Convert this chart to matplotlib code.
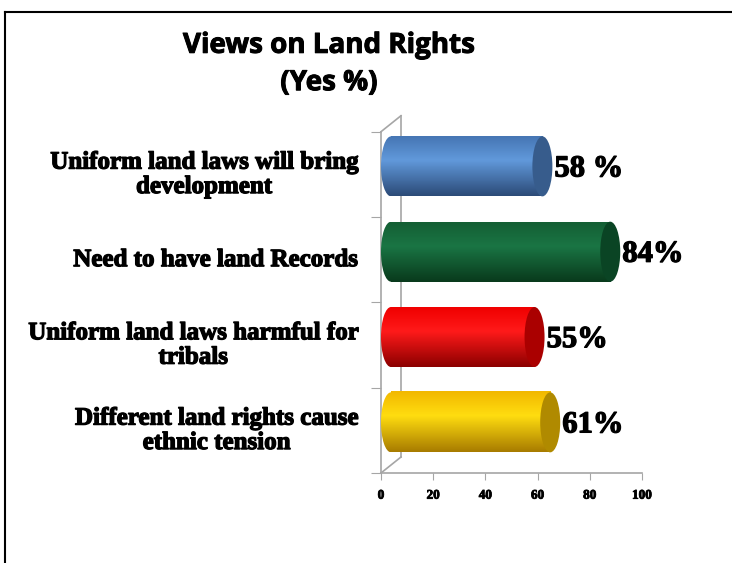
import numpy as np
import matplotlib.pyplot as plt
import matplotlib.patheffects as pe
from matplotlib.patches import Ellipse
from matplotlib.colors import LinearSegmentedColormap
from matplotlib.lines import Line2D

categories = ['Uniform land laws will bring\ndevelopment',
              'Need to have land Records',
              'Uniform land laws harmful for\ntribals',
              'Different land rights cause\nethnic tension']
values = [58, 84, 55, 61]
value_labels = ['58 %', '84%', '55%', '61%']
xticks = [0, 20, 40, 60, 80, 100]

# (top, highlight, bottom, end cap)
bar_colors = [('#4676B4', '#6199DB', '#2C4B78', '#375C8C'),
              ('#145F34', '#1A7544', '#093A1C', '#0A4424'),
              ('#F00000', '#FF1A1A', '#8C0000', '#AA0000'),
              ('#F2B800', '#FFDD10', '#A87C00', '#B08A00')]

W, H = 732, 563
fig = plt.figure(figsize=(W / 100, H / 100), dpi=100)

# plot area in pixels: x 0 at 381, 100 at 642; y from 131.7 to 473
ax = fig.add_axes([381 / W, 1 - 473 / H, 261 / W, 341.3 / H])
ax.set_xlim(0, 100)
ax.set_ylim(3.5, -0.5)

px_x = 100 / 261.0
px_y = 4 / 341.3
DX, DY = 20 * px_x, 16 * px_y          # full depth of the 3d box
dx, dy = DX / 2, DY / 2                # bars sit halfway in depth
bar_h = 60 * px_y

heavy = [pe.withStroke(linewidth=0.9, foreground='black')]

grey = '#A6A6A6'
frame = [((0, 3.5), (DX, 3.5 - DY)),
         ((0, -0.5), (DX, -0.5 - DY)),
         ((DX, -0.5 - DY), (DX, 3.5 - DY)),
         ((0, -0.5), (0, 3.5)),
         ((0, 3.5), (100, 3.5))]
for (x0, y0), (x1, y1) in frame:
    ax.plot([x0, x1], [y0, y1], color=grey, lw=1.2, clip_on=False, zorder=1)

for i, (v, (c_top, c_hi, c_bot, c_cap)) in enumerate(zip(values, bar_colors)):
    yc = i - dy
    x0 = dx
    x1 = v + dx
    cmap = LinearSegmentedColormap.from_list('c%d' % i,
                                             [(0, c_top), (0.4, c_hi), (1, c_bot)])
    grad = np.linspace(0, 1, 64).reshape(-1, 1)
    top, bot = yc - bar_h / 2, yc + bar_h / 2
    ax.imshow(grad, cmap=cmap, aspect='auto', extent=(x0, x1, bot, top),
              origin='upper', zorder=2, interpolation='bilinear')
    left_end = Ellipse((x0, yc), 2 * dx, bar_h, transform=ax.transData,
                       facecolor='none', edgecolor='none')
    ax.add_patch(left_end)
    im = ax.imshow(grad, cmap=cmap, aspect='auto', extent=(x0 - dx, x0 + dx, bot, top),
                   origin='upper', zorder=2, interpolation='bilinear')
    im.set_clip_path(left_end)
    ax.add_patch(Ellipse((x1, yc), 2 * dx, bar_h, facecolor=c_cap,
                         edgecolor='none', zorder=3))
    ax.text(v + DX + 0.8, yc + 0.03, value_labels[i], ha='left', va='center',
            fontsize=22, fontweight='bold', family='Liberation Serif',
            clip_on=False, path_effects=heavy)
    ax.text(-8.8, i, categories[i], ha='right', va='center',
            multialignment='center', fontsize=18, fontweight='bold',
            family='Liberation Serif', linespacing=1.08, path_effects=heavy)

ax.set_xlim(0, 100)
ax.set_ylim(3.5, -0.5)
for s in ax.spines.values():
    s.set_visible(False)
ax.set_xticks(xticks)
ax.set_xticklabels([str(t) for t in xticks], fontsize=9.5, fontweight='bold',
                   family='Liberation Serif')
for lbl in ax.get_xticklabels():
    lbl.set_path_effects([pe.withStroke(linewidth=0.6, foreground='black')])
ax.set_yticks([-0.5, 0.5, 1.5, 2.5, 3.5])
ax.set_yticklabels([])
ax.tick_params(axis='x', length=5, color=grey, pad=7, direction='out')
ax.tick_params(axis='y', length=7, color=grey, direction='out')
ax.patch.set_visible(False)

fig.text(329 / W, 1 - 64 / H, 'Views on Land Rights\n(Yes %)', ha='center',
         va='center', fontsize=20, fontweight='bold',
         family=['Open Sans', 'DejaVu Sans'], linespacing=1.38,
         path_effects=[pe.withStroke(linewidth=0.7, foreground='black')])

# slide border, top and left edges only
fig.add_artist(Line2D([5 / W, 5 / W], [0, 1 - 12 / H], color='black', lw=1.5))
fig.add_artist(Line2D([5 / W, 1], [1 - 12 / H, 1 - 12 / H], color='black', lw=1.5))

fig.savefig('out.png', dpi=100)
